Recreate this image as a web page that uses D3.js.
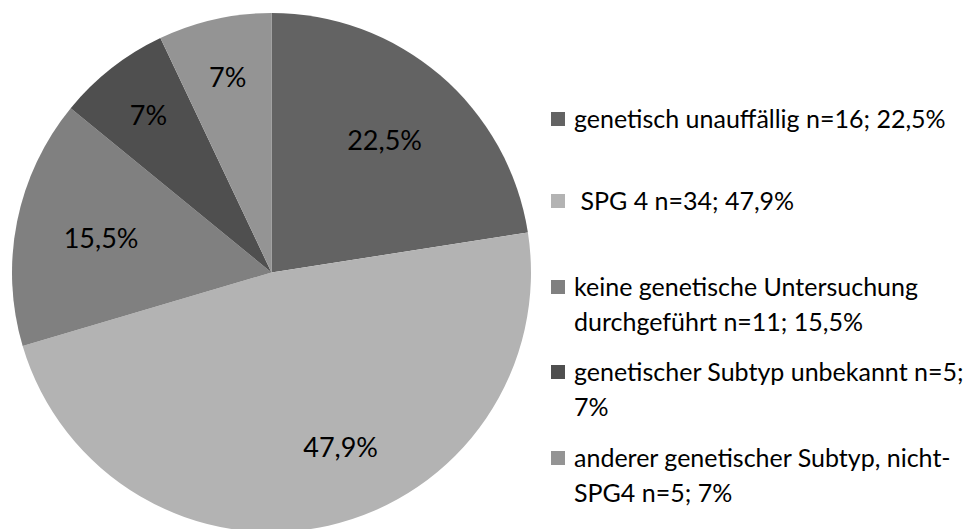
<!DOCTYPE html>
<html><head><meta charset="utf-8">
<script src="https://cdn.jsdelivr.net/npm/d3@7"></script>
<style>body{margin:0;background:#fff}svg{display:block}</style>
</head><body>
<svg id="c" width="976" height="529"></svg>
<script>
const categories = ["genetisch unauffällig n=16; 22,5%", " SPG 4 n=34; 47,9%", "keine genetische Untersuchung durchgeführt n=11; 15,5%", "genetischer Subtyp unbekannt n=5; 7%", "anderer genetischer Subtyp, nicht-SPG4 n=5; 7%"];
const legendLines = [["genetisch unauffällig n=16; 22,5%"], [" SPG 4 n=34; 47,9%"], ["keine genetische Untersuchung", "durchgeführt n=11; 15,5%"], ["genetischer Subtyp unbekannt n=5;", "7%"], ["anderer genetischer Subtyp, nicht-", "SPG4 n=5; 7%"]];
const counts = [16, 34, 11, 5, 5];
const pctLabels = ["22,5%", "47,9%", "15,5%", "7%", "7%"];
const colors = ["#636363", "#b3b3b3", "#808080", "#4f4f4f", "#949494"];

const svg = d3.select("#c");
const font = "Lato, 'Open Sans', sans-serif";
const cx = 271.5, cy = 272.5, R = 259.5;
const pie = d3.pie().sort(null).value(d => d);
const arcs = pie(counts);
const arc = d3.arc().innerRadius(0).outerRadius(R);
const g = svg.append("g").attr("transform", `translate(${cx},${cy})`);
g.selectAll("path").data(arcs).join("path")
  .attr("d", arc).attr("fill", (d, i) => colors[i]);

g.selectAll("text").data(arcs).join("text")
  .attr("transform", d => {
    const frac = (d.endAngle - d.startAngle) / (2 * Math.PI);
    let a = (d.startAngle + d.endAngle) / 2;
    let r = frac < 0.1 ? 0.77 * R : 0.67 * R;
    if (frac > 0.4) { a -= 0.155; r = 0.725 * R; }
    return `translate(${Math.sin(a) * r},${-Math.cos(a) * r})`;
  })
  .attr("text-anchor", "middle").attr("dy", "0.35em")
  .attr("font-family", font).attr("font-size", 27).attr("fill", "#000")
  .text((d, i) => pctLabels[i]);

const legBase = [128, 210, 296, 381, 467];
const lineGap = 35;
const lg = svg.append("g");
legendLines.forEach((lines, i) => {
  lg.append("rect").attr("x", 551).attr("y", legBase[i] - 16).attr("width", 14).attr("height", 14).attr("fill", colors[i]);
  lines.forEach((t, j) => {
    lg.append("text").attr("x", 574).attr("y", legBase[i] + j * lineGap)
      .attr("font-family", font).attr("font-size", 25).attr("fill", "#000")
      .attr("xml:space", "preserve").style("white-space", "pre").text(t);
  });
});
</script>
</body></html>
